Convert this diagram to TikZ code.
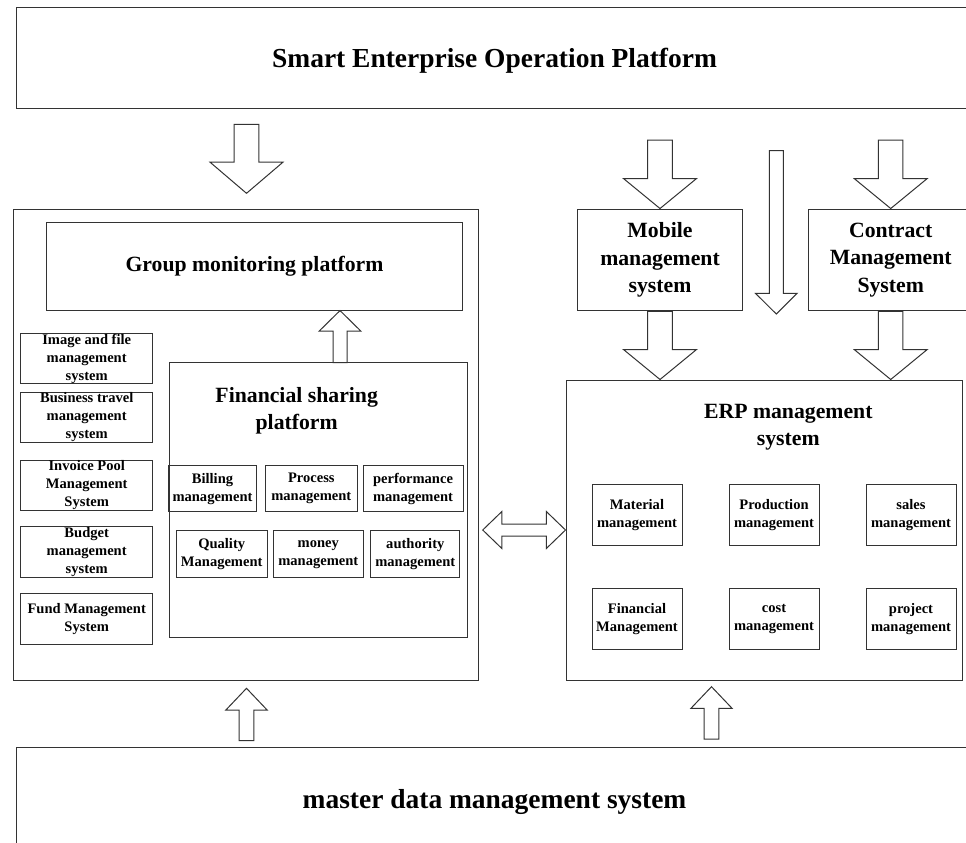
\documentclass[tikz,border=0pt]{standalone}
\usepackage{fontspec}
\setmainfont{Liberation Serif}
\usetikzlibrary{calc}

\newcommand{\titlefont}{\fontsize{20.6}{24}\selectfont\bfseries}
\newcommand{\midfont}{\fontsize{16.3}{20.5}\selectfont\bfseries}
\newcommand{\subfont}{\fontsize{10.9}{13.5}\selectfont\bfseries}

% hollow block arrow: tail, tip, half shaft, half head, head length
\newcommand{\blkarrow}[5]{%
	\coordinate (hb) at ($(#2)!#5!(#1)$);
	\draw[blk] ($(#1)!#3!90:(#2)$) -- ($(hb)!#3!90:(#2)$) -- ($(hb)!#4!90:(#2)$) -- (#2)
		-- ($(hb)!#4!-90:(#2)$) -- ($(hb)!#3!-90:(#2)$) -- ($(#1)!#3!-90:(#2)$) -- cycle;}

% hollow block arrow with two heads
\newcommand{\dblarrow}[5]{%
	\coordinate (ha) at ($(#1)!#5!(#2)$);
	\coordinate (hb) at ($(#2)!#5!(#1)$);
	\draw[blk] (#1) -- ($(ha)!#4!90:(#2)$) -- ($(ha)!#3!90:(#2)$) -- ($(hb)!#3!-90:(#1)$)
		-- ($(hb)!#4!-90:(#1)$) -- (#2) -- ($(hb)!#4!90:(#1)$) -- ($(hb)!#3!90:(#1)$)
		-- ($(ha)!#3!-90:(#2)$) -- ($(ha)!#4!-90:(#2)$) -- cycle;}

\begin{document}
\begin{tikzpicture}[x=0.75pt, y=-0.75pt,
	box/.style={draw=black!80, line width=0.75pt, inner sep=0pt, align=center},
	sub/.style={box, font=\subfont},
	blk/.style={draw=black!80, line width=0.75pt, fill=white, line join=miter}]
		\useasboundingbox (0,0) rectangle (966,842);
		\clip (0,0) rectangle (966,842);
		
		\node[box, font=\titlefont, text depth=0pt, minimum width=716.9pt, minimum height=75.75pt] at (494.5,57.8) (top) {Smart Enterprise Operation Platform};
		\node[box, font=\titlefont, text depth=0pt, minimum width=716.9pt, minimum height=77.5pt] at (494.5,799.3) (mdm) {master data management system};
		
		% left side
		\node[box, minimum width=348.5pt, minimum height=352.9pt] at (245.7,444.8) (panel) {};
		\node[box, font=\midfont, minimum width=311.7pt, minimum height=65.5pt] at (254.5,266.4) (grp) {Group monitoring platform};
		\node[box, minimum width=223.5pt, minimum height=206pt] at (318.3,500) (fin) {};
		\node[font=\midfont, align=center, inner sep=0pt] at (296.7,411) (fintitle) {Financial sharing\\platform};
		
		\node[sub, minimum width=99pt, minimum height=37.9pt] at (86.7,358.5) (img) {Image and file\\management\\system};
		\node[sub, minimum width=99pt, minimum height=37.9pt] at (86.7,417.5) (trv) {Business travel\\management\\system};
		\node[sub, minimum width=99pt, minimum height=37.9pt] at (86.7,485.5) (inv) {Invoice Pool\\Management\\System};
		\node[sub, minimum width=99pt, minimum height=37.9pt] at (86.7,552) (bud) {Budget\\management\\system};
		\node[sub, minimum width=99pt, minimum height=37.9pt] at (86.7,619.2) (fund) {Fund Management\\System};
		
		\node[sub, minimum width=66.3pt, minimum height=34.5pt] at (212.5,488.7) (bill) {Billing\\management};
		\node[sub, minimum width=69pt, minimum height=34.5pt] at (311.3,488.7) (proc) {Process\\management};
		\node[sub, minimum width=75pt, minimum height=34.5pt] at (413,488.7) (perf) {performance\\management};
		\node[sub, minimum width=68.5pt, minimum height=35pt] at (221.7,554.3) (qual) {Quality\\Management};
		\node[sub, minimum width=67.5pt, minimum height=35pt] at (318.3,554.3) (money) {money\\management};
		\node[sub, minimum width=67pt, minimum height=35pt] at (415.3,554.3) (auth) {authority\\management};
		
		% right side
		\node[box, font=\midfont, minimum width=124pt, minimum height=76.3pt] at (660,259.9) (mob) {Mobile\\management\\system};
		\node[box, font=\midfont, minimum width=123.6pt, minimum height=76.3pt] at (890.7,259.9) (con) {Contract\\Management\\System};
		\node[box, minimum width=297pt, minimum height=225pt] at (764,530) (erp) {};
		\node[font=\midfont, align=center, inner sep=0pt] at (788.3,427.2) (erptitle) {ERP management\\system};
		
		\node[sub, minimum width=67.5pt, minimum height=46pt] at (637,514.7) (mat) {Material\\management};
		\node[sub, minimum width=67.5pt, minimum height=46pt] at (774,514.7) (prod) {Production\\management};
		\node[sub, minimum width=67.5pt, minimum height=46pt] at (911,514.7) (sales) {sales\\management};
		\node[sub, minimum width=67.5pt, minimum height=46pt] at (637,619.3) (finm) {Financial\\Management};
		\node[sub, minimum width=67.5pt, minimum height=46pt] at (774,619.3) (cost) {cost\\management};
		\node[sub, minimum width=67.5pt, minimum height=46pt] at (911,619.3) (proj) {project\\management};
		
		% block arrows
		\coordinate (a1) at (246.5,124.3);
		\coordinate (a1e) at (246.5,193.3);
		\blkarrow{a1}{a1e}{9.3pt}{27.3pt}{23.3pt}
		
		\coordinate (finup) at (340,362.7);
		\coordinate (grpin) at (finup |- grp.south);
		\blkarrow{finup}{grpin}{5.25pt}{15.75pt}{15.5pt}
		
		\coordinate (mobin) at (660,140);
		\blkarrow{mobin}{mob.north}{9.2pt}{27.4pt}{22.5pt}
		\coordinate (moberp) at (mob.south |- erp.north);
		\blkarrow{mob.south}{moberp}{9.2pt}{27.4pt}{22.5pt}
		
		\coordinate (m1) at (776.3,150.7);
		\coordinate (m2) at (776.3,314);
		\blkarrow{m1}{m2}{5.25pt}{15.6pt}{15.5pt}
		
		\coordinate (conin) at (con.north |- mobin);
		\blkarrow{conin}{con.north}{9.2pt}{27.4pt}{22.5pt}
		\coordinate (conerp) at (con.south |- erp.north);
		\blkarrow{con.south}{conerp}{9.2pt}{27.4pt}{22.5pt}
		
		\coordinate (b1) at (246.5,740.7);
		\coordinate (b1e) at (246.5,688.3);
		\blkarrow{b1}{b1e}{5.6pt}{15.5pt}{16.3pt}
		\coordinate (b2) at (711.5,739);
		\coordinate (b2e) at (711.5,686.7);
		\blkarrow{b2}{b2e}{5.6pt}{15.5pt}{16.3pt}
		
		\coordinate (lr) at (482.7,530);
		\dblarrow{lr}{erp.west}{4.5pt}{13.8pt}{14.3pt}
	\end{tikzpicture}
\end{document}
